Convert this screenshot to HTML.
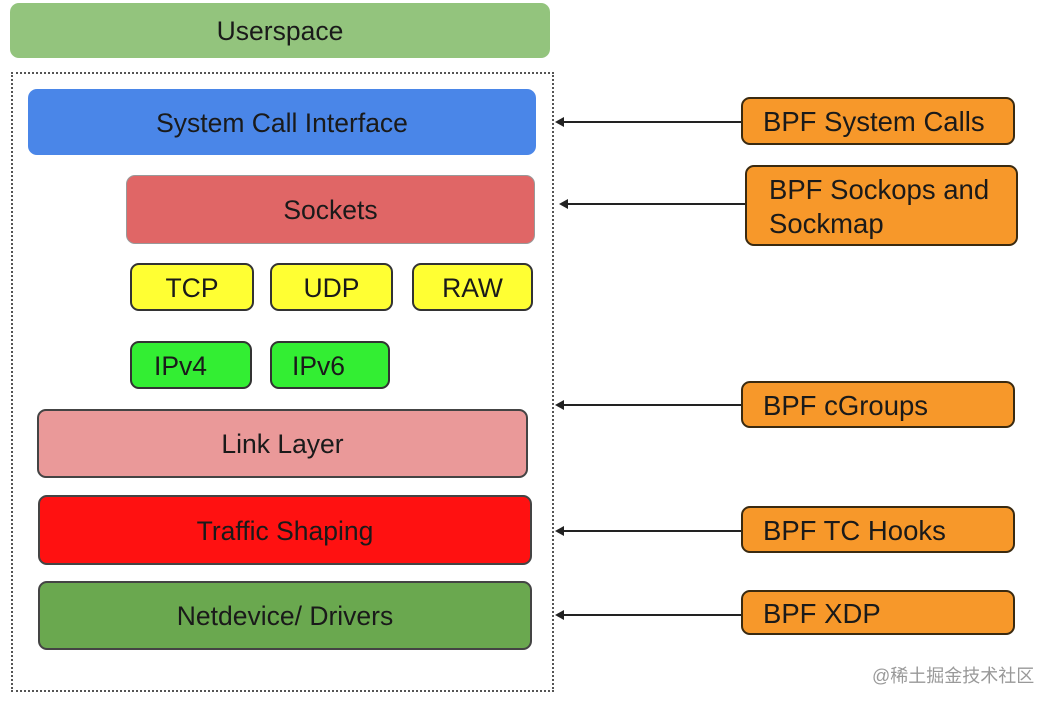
<!DOCTYPE html>
<html><head><meta charset="utf-8"><style>
body{margin:0;width:1054px;height:704px;background:#fff;position:relative;overflow:hidden;font-family:"Liberation Sans",Arial,sans-serif;}
.b{position:absolute;box-sizing:border-box;border-radius:9px;display:flex;align-items:center;justify-content:center;font-size:26.5px;color:#1a1a1a;padding-top:2px;}
.o{background:#f7982a;border:2px solid #3a2a10;justify-content:flex-start;padding-left:20px;font-size:27.5px;}
.a{position:absolute;height:2px;background:#222;}
.a::before{content:"";position:absolute;left:-2px;top:-4px;border-right:9px solid #222;border-top:5px solid transparent;border-bottom:5px solid transparent;}
</style></head><body>
<div class="b" style="left:10px;top:3px;width:540px;height:55px;background:#93c47d;">Userspace</div>
<div style="position:absolute;left:11px;top:72px;width:543px;height:620px;box-sizing:border-box;border:2px dotted #555;"></div>
<div class="b" style="left:28px;top:89px;width:508px;height:66px;background:#4a86e8;">System Call Interface</div>
<div class="b" style="left:126px;top:175px;width:409px;height:69px;background:#e06666;border:1px solid #999;">Sockets</div>
<div class="b" style="left:130px;top:263px;width:124px;height:48px;background:#ffff33;border:2px solid #333;">TCP</div>
<div class="b" style="left:270px;top:263px;width:123px;height:48px;background:#ffff33;border:2px solid #333;">UDP</div>
<div class="b" style="left:412px;top:263px;width:121px;height:48px;background:#ffff33;border:2px solid #333;">RAW</div>
<div class="b" style="left:130px;top:341px;width:122px;height:48px;background:#33ee33;border:2px solid #333;justify-content:flex-start;padding-left:22px;">IPv4</div>
<div class="b" style="left:270px;top:341px;width:120px;height:48px;background:#33ee33;border:2px solid #333;justify-content:flex-start;padding-left:20px;">IPv6</div>
<div class="b" style="left:37px;top:409px;width:491px;height:69px;background:#ea9999;border:2px solid #444;">Link Layer</div>
<div class="b" style="left:38px;top:495px;width:494px;height:70px;background:#ff1111;border:2px solid #444;">Traffic Shaping</div>
<div class="b" style="left:38px;top:581px;width:494px;height:69px;background:#6aa84f;border:2px solid #444;">Netdevice/ Drivers</div>

<div class="b o" style="left:741px;top:97px;width:274px;height:48px;">BPF System Calls</div>
<div class="b o" style="left:745px;top:165px;width:273px;height:81px;line-height:34px;padding-left:22px;">BPF Sockops and<br>Sockmap</div>
<div class="b o" style="left:741px;top:381px;width:274px;height:47px;">BPF cGroups</div>
<div class="b o" style="left:741px;top:506px;width:274px;height:47px;">BPF TC Hooks</div>
<div class="b o" style="left:741px;top:590px;width:274px;height:45px;">BPF XDP</div>

<div class="a" style="left:557px;top:121px;width:184px;"></div>
<div class="a" style="left:561px;top:203px;width:184px;"></div>
<div class="a" style="left:557px;top:404px;width:184px;"></div>
<div class="a" style="left:557px;top:530px;width:184px;"></div>
<div class="a" style="left:557px;top:614px;width:184px;"></div>
<div style="position:absolute;left:872px;top:662px;font-size:18px;color:#999;font-family:'Liberation Sans','Noto Sans CJK SC',sans-serif;">@稀土掘金技术社区</div>
</body></html>
